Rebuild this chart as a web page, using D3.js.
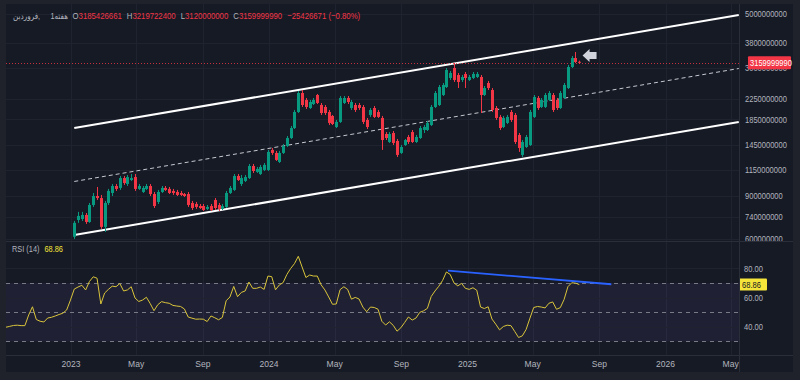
<!DOCTYPE html>
<html><head><meta charset="utf-8">
<script src="https://cdn.jsdelivr.net/npm/d3@7"></script>
<style>body{margin:0;background:#1f222b;overflow:hidden}svg{display:block}</style>
</head><body><svg id="c" width="800" height="380"></svg>
<script>
// ---------- DATA (prices in millions) ----------
const UNIT = 1e6;
const firstBar = "2023-01-07";   // weekly bars
const opens = [611,716,723,751,703,825,898,881,671,841,924,987,969,1064,1006,1044,1074,960,933,960,
987,915,849,933,969,960,942,933,924,915,915,841,833,817,817,795,817,865,825,795,
810,924,951,1085,1006,1035,1064,1192,1127,1105,1148,1148,1387,1348,1238,1348,1440,1552,1705,1984,
2373,2222,2060,2139,2329,2119,2080,1984,1911,1722,1806,2160,2264,2060,2119,2119,2080,1840,1929,2060,
1984,1875,1612,1495,1627,1509,1348,1453,1567,1642,1495,1552,1674,1674,1754,2080,2119,2329,2511,2734,
3004,2812,2683,2839,2683,2734,2760,2760,2329,2608,2441,2060,1893,1722,1789,1984,1929,1597,1323,1426,
1453,1893,2264,2080,2080,2222,2329,2222,2060,2264,2487,3033,3301,3185.426661];
const highs = [710,773,773,765,841,924,978,907,857,960,1006,1006,1085,1085,1095,1105,1105,1006,987,1006,
1006,933,951,987,987,978,960,951,942,924,933,857,849,833,833,825,833,881,841,833,
942,987,1105,1105,1095,1095,1215,1215,1181,1204,1226,1387,1413,1374,1374,1467,1582,1738,2022,2418,
2441,2264,2222,2264,2351,2160,2119,2022,1929,1840,2307,2307,2307,2222,2160,2160,2119,1875,2060,2099,
2022,1911,1642,1642,1658,1538,1453,1538,1597,1674,1597,1738,1754,1823,2119,2418,2559,2608,3004,2921,
3149,2866,2812,2893,2812,2893,2893,2812,2535,2658,2487,2099,1929,1911,1929,2022,1965,1627,1523,1597,
2022,2329,2307,2264,2373,2418,2373,2264,2418,2608,3091,3364,3493,3219.7224];
const lows = [599,697,710,690,697,810,865,658,640,825,898,942,951,997,987,1035,942,951,924,951,
898,802,833,924,942,915,907,898,898,890,810,787,795,795,780,787,780,787,780,787,
802,915,942,1035,987,1025,1054,1116,1116,1095,1137,1137,1323,1250,1226,1335,1426,1538,1689,1965,
2080,2041,2041,2119,2139,1929,1929,1754,1754,1705,1789,2139,2139,2022,1984,2022,1771,1689,1893,1875,
1875,1387,1523,1481,1453,1298,1335,1440,1467,1481,1481,1538,1627,1658,1738,2060,2099,2307,2487,2683,
2633,2487,2633,2487,2658,2708,2734,1965,2307,2441,1984,1840,1674,1705,1771,1806,1467,1361,1298,1413,
1440,1875,2022,2060,2060,2201,1984,2022,2041,2243,2464,3004,3149,3120];
const closes = [697,744,751,703,825,898,881,671,841,942,987,960,1064,1015,1074,1064,960,987,969,987,
915,817,933,969,951,924,924,907,907,898,825,802,810,802,787,810,787,802,795,817,
924,969,1085,1044,1064,1074,1192,1137,1159,1181,1204,1361,1348,1262,1348,1440,1552,1705,1984,2373,
2119,2080,2180,2222,2160,1965,1965,1789,1771,1806,2264,2264,2180,2180,2022,2060,1806,1722,2022,1893,
1893,1523,1552,1612,1481,1323,1426,1523,1495,1495,1567,1705,1722,1789,2080,2373,2511,2559,2948,2866,
2683,2633,2760,2734,2760,2839,2839,2329,2487,2487,2022,1875,1705,1875,1893,1840,1495,1413,1495,1567,
1984,2285,2060,2222,2329,2373,2022,2060,2373,2559,3033,3301,3179,3159.99999];

const lastBar = {o:"3185426661", h:"3219722400", l:"3120000000", c:"3159999990", chg:"−25426671 (−0.80%)"};

const rsiFirstBar = "2022-09-03";
const rsiValues = [39.7,40.3,40.9,41.1,40.8,40.8,48.1,53.7,45.0,43.8,
43.3,46.0,46.5,47.4,48.4,49.3,51.5,58.3,65.8,67.2,
68.4,65.2,71.0,74.2,73.2,55.6,63.1,65.6,67.8,67.4,
69.6,64.5,65.2,67.4,59.7,57.3,58.3,60.2,55.9,51.0,
55.1,57.2,56.5,56.1,54.6,54.2,53.9,52.2,46.7,45.9,
45.2,45.3,45.2,43.6,47.4,46.2,44.8,46.4,57.8,60.4,
67.6,60.6,63.5,64.5,70.6,66.3,66.3,67.2,65.6,74.7,
74.3,65.3,68.6,70.2,75.8,79.9,83.2,88.2,80.9,73.7,
75.4,74.7,74.7,68.7,65.2,60.4,55.4,55.6,65.4,67.4,
65.5,58.9,60.1,59.0,53.5,50.3,53.5,53.2,52.0,43.8,
41.2,43.4,41.0,37.0,39.3,42.9,46.7,44.6,46.0,49.9,
50.9,52.6,60.7,64.5,67.7,71.7,77.5,75.8,70.0,68.0,
69.7,66.3,65.6,66.7,65.0,53.5,52.5,53.7,45.3,41.8,
37.9,40.2,41.1,40.8,36.8,32.7,33.8,38.2,45.9,53.2,
53.9,53.5,52.9,56.1,57.0,52.0,53.1,58.7,67.4,70.1,
69.9,68.86];

const priceTicks = [5000,3800,3000,2250,1850,1450,1150,900,740,600];
const rsiTicks = [80,60,40];
const rsiLevels = [70,50,30];
const timeTickDates = ["2023-01-01","2023-05-01","2023-09-01","2024-01-01","2024-05-01","2024-09-01","2025-01-01","2025-05-01","2025-09-01","2026-01-01","2026-05-01"];
const timeTickLabels = ["2023","May","Sep","2024","May","Sep","2025","May","Sep","2026","May"];

const channelDates = ["2023-01-07","2026-05-16"];
const channelUpper = [1705,4953];
const channelMid = [1030,2990];
const channelLower = [622,1806];
const rsiTrendDates = ["2024-11-26","2025-09-23"];
const rsiTrendValues = [78.4,69.1];
const arrowDate = "2025-08-01", arrowPrice = 3380;
const titleWord = "فروردین,", titleInterval = "1هفته";

// ---------- LAYOUT ----------
const W=800,H=380, PL=6, PR=739, MT=4, MB=241, RT=242, RB=355, AB=372, FR=793;
const FONT='"Liberation Sans","DejaVu Sans",sans-serif';
const BG="#161a25", GRID="#1f2330", SEP="#2a2e39", TXT="#b2b5be";
const UP="#089981", DN="#f23645";
const K=0.82; // horizontal condensing of the narrow UI font
const parse=d3.utcParse("%Y-%m-%d");

const svg=d3.select("#c").style("font-family",FONT);
svg.append("rect").attr("width",W).attr("height",H).attr("fill","#1f222b");
svg.append("rect").attr("x",PL).attr("y",MT).attr("width",FR-PL).attr("height",AB-MT).attr("fill",BG);

// condensed text: group translated to (x,y) and scaled horizontally
function ctext(parent,xx,yy,str,o){
  o=o||{};
  const g=parent.append("g").attr("transform",`translate(${xx},${yy}) scale(${o.k||K},1)`);
  const t=g.append("text").attr("fill",o.fill||TXT).attr("font-size",o.size||9.2)
    .attr("text-anchor",o.anchor||"start").attr("dy",o.dy||null).text(str);
  return t;
}

const x=d3.scaleUtc().domain([parse("2023-01-01"),parse("2026-01-01")]).range([71,665.55]);
const y=d3.scaleLog().domain([600,5000]).range([238.75,14]);
const yr=d3.scaleLinear().domain([40,80]).range([326.8,268.3]);

const defs=svg.append("defs");
defs.append("clipPath").attr("id","cm").append("rect").attr("x",PL).attr("y",MT).attr("width",PR-PL).attr("height",MB-MT);
defs.append("clipPath").attr("id","cr").append("rect").attr("x",PL).attr("y",RT).attr("width",PR-PL).attr("height",RB-RT);
defs.append("clipPath").attr("id","ca").append("rect").attr("x",PR).attr("y",MT).attr("width",FR-PR).attr("height",MB-MT);

// grids
const tDates=timeTickDates.map(parse);
svg.append("g").selectAll("line").data(tDates).join("line")
  .attr("x1",d=>Math.round(x(d))+0.5).attr("x2",d=>Math.round(x(d))+0.5)
  .attr("y1",MT).attr("y2",RB).attr("stroke",GRID);
const gm=svg.append("g").attr("clip-path","url(#cm)");
gm.selectAll("line.h").data(priceTicks).join("line").attr("class","h")
  .attr("x1",PL).attr("x2",PR).attr("y1",d=>Math.round(y(d))+0.5).attr("y2",d=>Math.round(y(d))+0.5).attr("stroke",GRID);

// channel
const cD=channelDates.map(parse);
const line=d3.line().x(d=>x(d[0])).y(d=>y(d[1]));
gm.append("path").attr("d",line(cD.map((d,i)=>[d,channelUpper[i]]))).attr("stroke","#ffffff").attr("stroke-width",2).attr("fill","none");
gm.append("path").attr("d",line(cD.map((d,i)=>[d,channelLower[i]]))).attr("stroke","#ffffff").attr("stroke-width",2).attr("fill","none");
gm.append("path").attr("d",line(cD.map((d,i)=>[d,channelMid[i]]))).attr("stroke","#c7c9cf").attr("stroke-width",1).attr("stroke-dasharray","4,3").attr("fill","none");

// price line
const lastC=closes[closes.length-1];
gm.append("line").attr("x1",PL).attr("x2",PR).attr("y1",Math.round(y(lastC))+0.5).attr("y2",Math.round(y(lastC))+0.5)
  .attr("stroke",DN).attr("stroke-dasharray","1,2").attr("opacity",0.8);

// candles
const f0=parse(firstBar);
const bars=opens.map((o,i)=>({d:d3.utcDay.offset(f0,7*i),o,h:highs[i],l:lows[i],c:closes[i]}));
const cg=gm.append("g");
bars.forEach(b=>{
  const cx=Math.round(x(b.d));
  const col=b.c>=b.o?UP:DN;
  cg.append("line").attr("x1",cx+0.5).attr("x2",cx+0.5).attr("y1",y(b.h)).attr("y2",y(b.l)).attr("stroke",col);
  const t=y(Math.max(b.o,b.c)), bt=y(Math.min(b.o,b.c));
  cg.append("rect").attr("x",cx-1).attr("width",3).attr("y",t).attr("height",Math.max(1,bt-t)).attr("fill",col);
});

// arrow annotation
const ax=x(parse(arrowDate)), ay=y(arrowPrice);
gm.append("path").attr("d",`M${ax},${ay} L${ax+7},${ay-6.5} L${ax+7},${ay-3.5} L${ax+14},${ay-3.5} L${ax+14},${ay+3.5} L${ax+7},${ay+3.5} L${ax+7},${ay+6.5} Z`)
  .attr("fill","#d1d4dc");

// price axis labels
const ga=svg.append("g").attr("clip-path","url(#ca)");
priceTicks.forEach(v=>ctext(ga,745,y(v),String(v*UNIT),{dy:"0.35em"}));
const ly=y(lastC);
svg.append("rect").attr("x",748).attr("y",ly-6.5).attr("width",43).attr("height",13).attr("fill",DN).attr("rx",1);
ctext(svg,750,ly,lastBar.c,{fill:"#ffffff",dy:"0.35em"});

// header: sequential condensed texts
function seq(x0,y0,parts,size,k){
  let cx=x0;
  parts.forEach(p=>{
    const t=ctext(svg,cx,y0,p.t,{fill:p.c,size,k});
    cx+=t.node().getComputedTextLength()*k+(p.g||0);
  });
  return cx;
}
// title: word at left, interval right-aligned just before the OHLC values
ctext(svg,13,19,titleWord,{size:8.5,k:0.85});
ctext(svg,68,19,titleInterval,{size:8.5,k:0.85,anchor:"end"});
seq(72.5,19,[{t:"O",c:TXT},{t:lastBar.o,c:DN,g:5},{t:"H",c:TXT},{t:lastBar.h,c:DN,g:5},{t:"L",c:TXT},{t:lastBar.l,c:DN,g:5},{t:"C",c:TXT},{t:lastBar.c,c:DN,g:5},{t:lastBar.chg,c:DN}],9.5,K);

// RSI pane
const gr=svg.append("g").attr("clip-path","url(#cr)");
gr.append("rect").attr("x",PL).attr("width",PR-PL).attr("y",yr(70)).attr("height",yr(30)-yr(70)).attr("fill","#7e57c2").attr("opacity",0.1);
gr.selectAll("line.g").data(rsiTicks).join("line").attr("class","g").attr("x1",PL).attr("x2",PR)
  .attr("y1",d=>Math.round(yr(d))+0.5).attr("y2",d=>Math.round(yr(d))+0.5).attr("stroke",GRID);
gr.selectAll("line.l").data(rsiLevels).join("line").attr("class","l").attr("x1",PL).attr("x2",PR)
  .attr("y1",d=>Math.round(yr(d))+0.5).attr("y2",d=>Math.round(yr(d))+0.5).attr("stroke","#787b86").attr("stroke-dasharray","4,4");
const r0=parse(rsiFirstBar);
const rl=d3.line().x((v,i)=>x(d3.utcDay.offset(r0,7*i))).y(v=>yr(v));
gr.append("path").attr("d",rl(rsiValues)).attr("fill","none").attr("stroke","#d9c53a").attr("stroke-width",1);
const rtD=rsiTrendDates.map(parse);
gr.append("path").attr("d",d3.line().x(d=>x(d[0])).y(d=>yr(d[1]))(rtD.map((d,i)=>[d,rsiTrendValues[i]])))
  .attr("stroke","#2962ff").attr("stroke-width",1.8).attr("fill","none");
rsiTicks.forEach(v=>ctext(svg,744,yr(v),v.toFixed(2),{dy:"0.35em"}));
const lastR=rsiValues[rsiValues.length-1];
svg.append("rect").attr("x",739).attr("y",yr(lastR)-6).attr("width",28).attr("height",12).attr("fill","#f5e43a").attr("rx",1);
ctext(svg,742,yr(lastR),lastR.toFixed(2),{fill:"#131722",dy:"0.35em"});
seq(12,252,[{t:"RSI (14)",c:TXT,g:5},{t:lastR.toFixed(2),c:"#f5e43a"}],9,K);

// separators
svg.append("line").attr("x1",PR+0.5).attr("x2",PR+0.5).attr("y1",MT).attr("y2",AB).attr("stroke",SEP);
svg.append("line").attr("x1",PL).attr("x2",FR).attr("y1",MB+0.5).attr("y2",MB+0.5).attr("stroke",SEP);
svg.append("line").attr("x1",PL).attr("x2",FR).attr("y1",RB+0.5).attr("y2",RB+0.5).attr("stroke",SEP);

// time axis
tDates.forEach((d,i)=>ctext(svg,x(d),364,timeTickLabels[i],{size:9.5,k:0.9,anchor:"middle",dy:"0.35em"}));
</script></body></html>
